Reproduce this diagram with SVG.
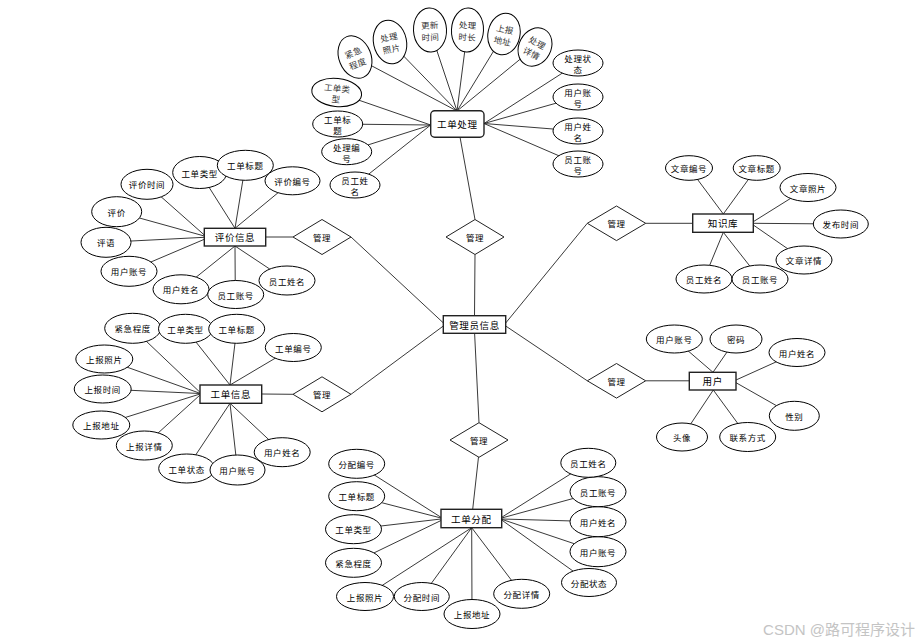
<svg xmlns="http://www.w3.org/2000/svg" width="921" height="644" viewBox="0 0 921 644">
<style>
.e{fill:#fff;stroke:#000;stroke-width:1}
.b{fill:#fff;stroke:#222;stroke-width:1.4}
.d{fill:#fff;stroke:#222;stroke-width:1}
.c line{stroke:#222;stroke-width:0.9}
text{font-family:"Noto Sans CJK SC","Noto Sans",sans-serif;text-anchor:middle;dominant-baseline:central;fill:#000}
.t{font-size:8.5px;letter-spacing:0.6px}
.s{font-size:8.5px;letter-spacing:0.3px;fill:#333}
.k{font-size:9.5px;letter-spacing:0.6px}
.m{font-size:8.5px;letter-spacing:0.4px}
.w{font-family:"Liberation Sans","Noto Sans CJK SC",sans-serif;font-size:15px;fill:#c4c4c4;text-anchor:end;dominant-baseline:auto}
</style>
<rect width="921" height="644" fill="#fff"/>
<g id="connectors" class="c">
<!-- 工单处理 -->
<line x1="355" y1="57" x2="457" y2="111"/>
<line x1="390" y1="42" x2="457" y2="111"/>
<line x1="430" y1="30" x2="457" y2="111"/>
<line x1="467.5" y1="30" x2="457" y2="111"/>
<line x1="504" y1="34" x2="457" y2="111"/>
<line x1="535" y1="47" x2="457" y2="111"/>
<line x1="578" y1="63" x2="484" y2="123.5"/>
<line x1="578" y1="97" x2="484" y2="123.5"/>
<line x1="578" y1="131" x2="484" y2="123.5"/>
<line x1="578" y1="164" x2="484" y2="123.5"/>
<line x1="336.7" y1="92.5" x2="430.7" y2="125"/>
<line x1="337.7" y1="124" x2="430.7" y2="125"/>
<line x1="346.7" y1="151.7" x2="430.7" y2="125"/>
<line x1="355" y1="185" x2="430.7" y2="125"/>
<line x1="460" y1="137" x2="475" y2="219.5"/>
<!-- center -->
<line x1="475" y1="254.5" x2="474.5" y2="315.7"/>
<line x1="474.6" y1="333.3" x2="479" y2="422.7"/>
<line x1="478.5" y1="457" x2="472.7" y2="509.3"/>
<line x1="351" y1="237" x2="444" y2="323.5"/>
<line x1="265.7" y1="237" x2="293" y2="237"/>
<line x1="351" y1="394.3" x2="444" y2="325.5"/>
<line x1="261.7" y1="394" x2="293" y2="394.3"/>
<line x1="505.7" y1="323" x2="587.3" y2="223.3"/>
<line x1="645.7" y1="223.3" x2="692.7" y2="223.3"/>
<line x1="505.7" y1="326" x2="587.3" y2="380.8"/>
<line x1="645.7" y1="380.8" x2="689.3" y2="380.8"/>
<!-- 知识库 -->
<line x1="689" y1="168" x2="723.3" y2="214"/>
<line x1="756.7" y1="168" x2="723.3" y2="214"/>
<line x1="808" y1="187.5" x2="753.3" y2="221.7"/>
<line x1="840.8" y1="224" x2="753.3" y2="223.3"/>
<line x1="804" y1="260" x2="753.3" y2="225"/>
<line x1="704" y1="279" x2="723.3" y2="232.3"/>
<line x1="760" y1="279" x2="723.3" y2="232.3"/>
<!-- 用户 -->
<line x1="674.3" y1="339" x2="713" y2="372.3"/>
<line x1="736" y1="339" x2="713" y2="372.3"/>
<line x1="797" y1="352.5" x2="736" y2="380"/>
<line x1="794.3" y1="415.8" x2="736" y2="382.7"/>
<line x1="682" y1="437" x2="713.3" y2="390"/>
<line x1="747.7" y1="437" x2="713.3" y2="390"/>
<!-- 评价信息 -->
<line x1="147" y1="184.3" x2="204.3" y2="235"/>
<line x1="199.7" y1="172.5" x2="235" y2="228.3"/>
<line x1="245.3" y1="165.3" x2="235" y2="228.3"/>
<line x1="292.5" y1="180.8" x2="235" y2="228.3"/>
<line x1="116.7" y1="211.7" x2="204.3" y2="236"/>
<line x1="106" y1="242.3" x2="204.3" y2="237.3"/>
<line x1="129" y1="271.3" x2="204.3" y2="239.3"/>
<line x1="181" y1="289.3" x2="235" y2="246"/>
<line x1="235.3" y1="294.5" x2="235" y2="246"/>
<line x1="287" y1="280.5" x2="235" y2="246"/>
<!-- 工单信息 -->
<line x1="132.7" y1="328.3" x2="200" y2="392.3"/>
<line x1="185.5" y1="328.8" x2="230" y2="385"/>
<line x1="236.7" y1="328.8" x2="230" y2="385"/>
<line x1="293.3" y1="347.5" x2="230" y2="385"/>
<line x1="104.3" y1="359" x2="200" y2="393.3"/>
<line x1="102.7" y1="389" x2="200" y2="393.5"/>
<line x1="101.3" y1="425" x2="200" y2="394"/>
<line x1="144.3" y1="445.5" x2="200" y2="395"/>
<line x1="186.7" y1="468.5" x2="230" y2="403.3"/>
<line x1="237.5" y1="470" x2="230" y2="403.3"/>
<line x1="282.2" y1="452.2" x2="230" y2="403.3"/>
<!-- 工单分配 -->
<line x1="356.7" y1="463.8" x2="441" y2="517.3"/>
<line x1="356.7" y1="496.2" x2="441" y2="518"/>
<line x1="353.5" y1="529.2" x2="441" y2="519"/>
<line x1="353.5" y1="562.8" x2="441" y2="520.5"/>
<line x1="365" y1="596.5" x2="471.7" y2="527.7"/>
<line x1="421.8" y1="596.5" x2="471.7" y2="527.7"/>
<line x1="472" y1="614" x2="471.7" y2="527.7"/>
<line x1="521.7" y1="593.8" x2="471.7" y2="527.7"/>
<line x1="589" y1="582.5" x2="501.7" y2="520"/>
<line x1="598" y1="551.7" x2="501.7" y2="519.3"/>
<line x1="598" y1="521.7" x2="501.7" y2="519"/>
<line x1="598" y1="491.7" x2="501.7" y2="518"/>
<line x1="588.3" y1="462.8" x2="501.7" y2="517.3"/>
</g>

<!-- 工单处理 cluster -->
<g id="gdcl"><rect class="b" x="430.7" y="110.7" width="53.3" height="26.6" rx="4"/><text class="k" x="457.3" y="124">工单处理</text></g>
<g id="gdcl-jjcd" transform="translate(355,57) rotate(-22)"><ellipse class="e" rx="16" ry="22"/><text class="s" y="-5.5">紧急</text><text class="s" y="6.5">程度</text></g>
<g id="gdcl-clzp" transform="translate(390,42) rotate(-12)"><ellipse class="e" rx="16.5" ry="22"/><text class="s" y="-5.5">处理</text><text class="s" y="6.5">照片</text></g>
<g id="gdcl-gxsj" transform="translate(430,30) rotate(-3)"><ellipse class="e" rx="16.5" ry="22"/><text class="s" y="-5.5">更新</text><text class="s" y="6.5">时间</text></g>
<g id="gdcl-clsc" transform="translate(467.5,30) rotate(3)"><ellipse class="e" rx="16" ry="22"/><text class="s" y="-5.5">处理</text><text class="s" y="6.5">时长</text></g>
<g id="gdcl-sbdz" transform="translate(504,34) rotate(12)"><ellipse class="e" rx="16" ry="21"/><text class="s" y="-5.5">上报</text><text class="s" y="6.5">地址</text></g>
<g id="gdcl-clxq" transform="translate(535,47) rotate(28)"><ellipse class="e" rx="16" ry="20"/><text class="s" y="-5.5">处理</text><text class="s" y="6.5">详情</text></g>
<g id="gdcl-clzt"><ellipse class="e" cx="578" cy="63" rx="25" ry="13"/><text class="t" x="578" y="58">处理状</text><text class="t" x="578" y="69">态</text></g>
<g id="gdcl-yhzh"><ellipse class="e" cx="578" cy="97" rx="25" ry="13"/><text class="t" x="578" y="92">用户账</text><text class="t" x="578" y="103">号</text></g>
<g id="gdcl-yhxm"><ellipse class="e" cx="578" cy="131" rx="25" ry="13"/><text class="t" x="578" y="126">用户姓</text><text class="t" x="578" y="137">名</text></g>
<g id="gdcl-ygzh"><ellipse class="e" cx="578" cy="164" rx="25" ry="13"/><text class="t" x="578" y="159">员工账</text><text class="t" x="578" y="170">号</text></g>
<g id="gdcl-gdlx" transform="translate(336.7,92.5) rotate(6)"><ellipse class="e" rx="25" ry="14"/><text class="s" y="-5">工单类</text><text class="s" y="6">型</text></g>
<g id="gdcl-gdbt"><ellipse class="e" cx="337.7" cy="124" rx="25" ry="13"/><text class="t" x="337.7" y="119">工单标</text><text class="t" x="337.7" y="130">题</text></g>
<g id="gdcl-clbh"><ellipse class="e" cx="346.7" cy="151.7" rx="25" ry="13"/><text class="t" x="346.7" y="146.7">处理编</text><text class="t" x="346.7" y="157.7">号</text></g>
<g id="gdcl-ygxm"><ellipse class="e" cx="355" cy="185" rx="25" ry="13"/><text class="t" x="355" y="180">员工姓</text><text class="t" x="355" y="191">名</text></g>

<!-- relations and center -->
<g id="gl1"><polygon class="d" points="446,237 475,219.5 504,237 475,254.5"/><text class="m" x="475" y="237">管理</text></g>
<g id="glyxx"><rect class="b" x="443.3" y="315.7" width="62.4" height="17.6"/><text class="k" x="474.5" y="324.5">管理员信息</text></g>
<g id="gl2"><polygon class="d" points="450,440 479,422.7 508,440 479,457.3"/><text class="m" x="479" y="440">管理</text></g>
<g id="gl3"><polygon class="d" points="293,237 322,219.5 351,237 322,254.5"/><text class="m" x="322" y="237">管理</text></g>
<g id="gl4"><polygon class="d" points="293,394.3 322,376.8 351,394.3 322,411.8"/><text class="m" x="322" y="394.3">管理</text></g>
<g id="gl5"><polygon class="d" points="587.3,223.3 616.5,206 645.7,223.3 616.5,240.6"/><text class="m" x="616.5" y="223.3">管理</text></g>
<g id="gl6"><polygon class="d" points="587.3,380.8 616.5,363.5 645.7,380.8 616.5,398.1"/><text class="m" x="616.5" y="380.8">管理</text></g>

<!-- 知识库 -->
<g id="zsk"><rect class="b" x="692.7" y="214" width="60.6" height="18.3"/><text class="k" x="723" y="223.2">知识库</text></g>
<g id="zsk-wzbh"><ellipse class="e" cx="689" cy="168" rx="23.5" ry="12.3"/><text class="t" x="689" y="168">文章编号</text></g>
<g id="zsk-wzbt"><ellipse class="e" cx="756.7" cy="168" rx="23.5" ry="12.3"/><text class="t" x="756.7" y="168">文章标题</text></g>
<g id="zsk-wzzp"><ellipse class="e" cx="808" cy="187.5" rx="28" ry="14"/><text class="t" x="808" y="187.5">文章照片</text></g>
<g id="zsk-fbsj"><ellipse class="e" cx="840.8" cy="224" rx="27.5" ry="14"/><text class="t" x="840.8" y="224">发布时间</text></g>
<g id="zsk-wzxq"><ellipse class="e" cx="804" cy="260" rx="28" ry="14"/><text class="t" x="804" y="260">文章详情</text></g>
<g id="zsk-ygxm"><ellipse class="e" cx="704" cy="279" rx="28" ry="14"/><text class="t" x="704" y="279">员工姓名</text></g>
<g id="zsk-ygzh"><ellipse class="e" cx="760" cy="279" rx="28" ry="14"/><text class="t" x="760" y="279">员工账号</text></g>

<!-- 用户 -->
<g id="yh"><rect class="b" x="689.3" y="372.3" width="46.7" height="17.7"/><text class="k" x="712.7" y="381">用户</text></g>
<g id="yh-yhzh"><ellipse class="e" cx="674.3" cy="339" rx="28" ry="14"/><text class="t" x="674.3" y="339">用户账号</text></g>
<g id="yh-mm"><ellipse class="e" cx="736" cy="339" rx="26" ry="14"/><text class="t" x="736" y="339">密码</text></g>
<g id="yh-yhxm"><ellipse class="e" cx="797" cy="352.5" rx="28" ry="14"/><text class="t" x="797" y="352.5">用户姓名</text></g>
<g id="yh-xb"><ellipse class="e" cx="794.3" cy="415.8" rx="25" ry="14.5"/><text class="t" x="794.3" y="415.8">性别</text></g>
<g id="yh-tx"><ellipse class="e" cx="682" cy="437" rx="25.5" ry="14"/><text class="t" x="682" y="437">头像</text></g>
<g id="yh-lxfs"><ellipse class="e" cx="747.7" cy="437" rx="28" ry="14.5"/><text class="t" x="747.7" y="437">联系方式</text></g>

<!-- 评价信息 -->
<g id="pjxx"><rect class="b" x="204.3" y="228.3" width="61.4" height="17.7"/><text class="k" x="235" y="237.2">评价信息</text></g>
<g id="pj-pjsj"><ellipse class="e" cx="147" cy="184.3" rx="26" ry="15"/><text class="t" x="147" y="184.3">评价时间</text></g>
<g id="pj-gdlx"><ellipse class="e" cx="199.7" cy="172.5" rx="27" ry="16"/><text class="t" x="199.7" y="172.5">工单类型</text></g>
<g id="pj-gdbt"><ellipse class="e" cx="245.3" cy="165.3" rx="28" ry="15"/><text class="t" x="245.3" y="165.3">工单标题</text></g>
<g id="pj-pjbh"><ellipse class="e" cx="292.5" cy="180.8" rx="27.5" ry="14"/><text class="t" x="292.5" y="180.8">评价编号</text></g>
<g id="pj-pj"><ellipse class="e" cx="116.7" cy="211.7" rx="25" ry="15"/><text class="t" x="116.7" y="211.7">评价</text></g>
<g id="pj-py"><ellipse class="e" cx="106" cy="242.3" rx="25" ry="15"/><text class="t" x="106" y="242.3">评语</text></g>
<g id="pj-yhzh"><ellipse class="e" cx="129" cy="271.3" rx="28" ry="15"/><text class="t" x="129" y="271.3">用户账号</text></g>
<g id="pj-yhxm"><ellipse class="e" cx="181" cy="289.3" rx="28" ry="14.5"/><text class="t" x="181" y="289.3">用户姓名</text></g>
<g id="pj-ygzh"><ellipse class="e" cx="235.7" cy="294.5" rx="28" ry="14"/><text class="t" x="235.7" y="294.5">员工账号</text></g>
<g id="pj-ygxm"><ellipse class="e" cx="287" cy="280.5" rx="28" ry="14.5"/><text class="t" x="287" y="280.5">员工姓名</text></g>

<!-- 工单信息 -->
<g id="gdxx"><rect class="b" x="200" y="385" width="61.7" height="18.3"/><text class="k" x="230.8" y="394.2">工单信息</text></g>
<g id="gx-jjcd"><ellipse class="e" cx="132.7" cy="328.3" rx="28" ry="15"/><text class="t" x="132.7" y="328.3">紧急程度</text></g>
<g id="gx-gdlx"><ellipse class="e" cx="185.5" cy="328.8" rx="27" ry="14.5"/><text class="t" x="185.5" y="328.8">工单类型</text></g>
<g id="gx-gdbt"><ellipse class="e" cx="236.7" cy="328.8" rx="28" ry="14.5"/><text class="t" x="236.7" y="328.8">工单标题</text></g>
<g id="gx-gdbh"><ellipse class="e" cx="293.3" cy="347.5" rx="28" ry="14"/><text class="t" x="293.3" y="347.5">工单编号</text></g>
<g id="gx-sbzp"><ellipse class="e" cx="104.3" cy="359" rx="28.5" ry="14"/><text class="t" x="104.3" y="359">上报照片</text></g>
<g id="gx-sbsj"><ellipse class="e" cx="102.7" cy="389" rx="28.5" ry="14"/><text class="t" x="102.7" y="389">上报时间</text></g>
<g id="gx-sbdz"><ellipse class="e" cx="101.3" cy="425" rx="28.5" ry="14"/><text class="t" x="101.3" y="425">上报地址</text></g>
<g id="gx-sbxq"><ellipse class="e" cx="144.3" cy="445.5" rx="28" ry="14.5"/><text class="t" x="144.3" y="445.5">上报详情</text></g>
<g id="gx-gdzt"><ellipse class="e" cx="186.7" cy="468.5" rx="28" ry="14.5"/><text class="t" x="186.7" y="468.5">工单状态</text></g>
<g id="gx-yhzh"><ellipse class="e" cx="237.5" cy="470" rx="27.5" ry="15"/><text class="t" x="237.5" y="470">用户账号</text></g>
<g id="gx-yhxm"><ellipse class="e" cx="282.2" cy="452.2" rx="28" ry="14.5"/><text class="t" x="282.2" y="452.2">用户姓名</text></g>

<!-- 工单分配 -->
<g id="gdfp"><rect class="b" x="441" y="509.3" width="60.7" height="18.4"/><text class="k" x="471.3" y="518.5">工单分配</text></g>
<g id="fp-fpbh"><ellipse class="e" cx="356.7" cy="463.8" rx="28" ry="14.5"/><text class="t" x="356.7" y="463.8">分配编号</text></g>
<g id="fp-gdbt"><ellipse class="e" cx="356.7" cy="496.2" rx="28" ry="14.5"/><text class="t" x="356.7" y="496.2">工单标题</text></g>
<g id="fp-gdlx"><ellipse class="e" cx="353.5" cy="529.2" rx="28" ry="14.5"/><text class="t" x="353.5" y="529.2">工单类型</text></g>
<g id="fp-jjcd"><ellipse class="e" cx="353.5" cy="562.8" rx="28" ry="14.5"/><text class="t" x="353.5" y="562.8">紧急程度</text></g>
<g id="fp-sbzp"><ellipse class="e" cx="365" cy="596.5" rx="28.5" ry="14"/><text class="t" x="365" y="596.5">上报照片</text></g>
<g id="fp-fpsj"><ellipse class="e" cx="421.8" cy="596.5" rx="27.5" ry="14"/><text class="t" x="421.8" y="596.5">分配时间</text></g>
<g id="fp-sbdz"><ellipse class="e" cx="472" cy="614" rx="28" ry="14.5"/><text class="t" x="472" y="614">上报地址</text></g>
<g id="fp-fpxq"><ellipse class="e" cx="521.7" cy="593.8" rx="28" ry="14.5"/><text class="t" x="521.7" y="593.8">分配详情</text></g>
<g id="fp-fpzt"><ellipse class="e" cx="589" cy="582.5" rx="27.5" ry="14"/><text class="t" x="589" y="582.5">分配状态</text></g>
<g id="fp-yhzh"><ellipse class="e" cx="598" cy="551.7" rx="28" ry="15"/><text class="t" x="598" y="551.7">用户账号</text></g>
<g id="fp-yhxm"><ellipse class="e" cx="598" cy="521.7" rx="28" ry="15"/><text class="t" x="598" y="521.7">用户姓名</text></g>
<g id="fp-ygzh"><ellipse class="e" cx="598" cy="491.7" rx="28" ry="15"/><text class="t" x="598" y="491.7">员工账号</text></g>
<g id="fp-ygxm"><ellipse class="e" cx="588.3" cy="462.8" rx="27.5" ry="14.5"/><text class="t" x="588.3" y="462.8">员工姓名</text></g>

<text class="w" x="915" y="635">CSDN @路可程序设计</text>
</svg>
